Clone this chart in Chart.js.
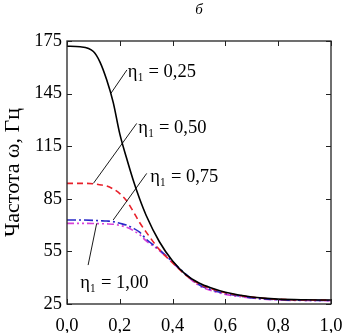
<!DOCTYPE html>
<html>
<head>
<meta charset="utf-8">
<script src="https://cdn.jsdelivr.net/npm/chart.js@4/dist/chart.umd.min.js"></script>
<style>
html,body{margin:0;padding:0;background:#fff;}
#wrap{width:343px;height:333px;}
</style>
</head>
<body>
<div id="wrap"><canvas id="c" width="343" height="333"></canvas></div>
<script>
const xValues = [0, 0.05, 0.1, 0.125, 0.15, 0.175, 0.2, 0.225, 0.25, 0.275, 0.3, 0.35, 0.4, 0.45, 0.5, 0.55, 0.6, 0.7, 0.8, 0.9, 1.0];
const eta025 = [172, 171.7, 169, 163, 153, 140, 122, 108.5, 96, 85, 75.5, 60.5, 49.5, 41.8, 37, 34, 31.7, 29, 27.8, 27.4, 27.3];
const eta050 = [93.8, 93.8, 93.6, 93, 92.3, 90.6, 88, 84, 78, 71.5, 66, 56, 48.5, 41.5, 36.5, 33.5, 31.4, 28.9, 27.7, 27.3, 27.2];
const eta075 = [72.9, 72.9, 72.7, 72.5, 72.3, 72, 71, 70, 68.3, 66, 62, 56, 49, 42, 36, 33, 31, 28.5, 27.4, 27.1, 27];
const eta100 = [71, 71, 70.9, 70.8, 70.7, 70.5, 69.8, 68.8, 67, 64.5, 61, 55.5, 48.5, 41.5, 35.5, 32.5, 30.5, 28.4, 27.3, 27, 26.9];
const yTicks = [25, 55, 85, 115, 145, 175];
const xTicks = [0, 0.2, 0.4, 0.6, 0.8, 1.0];
const seriesLabels = ["η₁ = 0,25", "η₁ = 0,50", "η₁ = 0,75", "η₁ = 1,00"];
// annotation label anchors and leader lines in data coordinates
const labelPos = [[0.230, 157.3], [0.270, 125.4], [0.315, 97.4], [0.050, 37]];
const leaderFrom = [[0.167, 145.3], [0.100, 93.8], [0.175, 72.9], [0.1125, 71]];
const leaderTo = [[0.227, 158.5], [0.264, 128], [0.302, 99.5], [0.080, 47.2]];

const mk = (arr) => xValues.map((x, i) => ({x: x, y: arr[i]}));
const serif = "'Liberation Serif', 'Times New Roman', serif";

const frameAndTicks = {
  id: 'frameAndTicks',
  afterDraw(chart) {
    const ctx = chart.ctx, a = chart.chartArea;
    const xs = chart.scales.x, ys = chart.scales.y;
    ctx.save();
    ctx.strokeStyle = '#222';
    ctx.lineWidth = 1.3;
    ctx.strokeRect(a.left, a.top, a.right - a.left, a.bottom - a.top);
    ctx.lineWidth = 1;
    const L = 5;
    ctx.beginPath();
    xTicks.forEach(v => {
      const p = Math.round(xs.getPixelForValue(v)) + 0.5;
      ctx.moveTo(p, a.bottom); ctx.lineTo(p, a.bottom - L);
      ctx.moveTo(p, a.top); ctx.lineTo(p, a.top + L);
    });
    yTicks.forEach(v => {
      const p = Math.round(ys.getPixelForValue(v)) + 0.5;
      ctx.moveTo(a.left, p); ctx.lineTo(a.left + L, p);
      ctx.moveTo(a.right, p); ctx.lineTo(a.right - L, p);
    });
    ctx.stroke();
    // leaders and labels
    ctx.strokeStyle = '#000';
    ctx.lineWidth = 0.9;
    ctx.fillStyle = '#000';
    ctx.textBaseline = 'middle';
    ctx.textAlign = 'left';
    ctx.font = "18.5px " + serif;
    for (let i = 0; i < seriesLabels.length; i++) {
      ctx.beginPath();
      ctx.moveTo(xs.getPixelForValue(leaderFrom[i][0]), ys.getPixelForValue(leaderFrom[i][1]));
      ctx.lineTo(xs.getPixelForValue(leaderTo[i][0]), ys.getPixelForValue(leaderTo[i][1]));
      ctx.stroke();
      ctx.fillText(seriesLabels[i], xs.getPixelForValue(labelPos[i][0]), ys.getPixelForValue(labelPos[i][1]));
    }
    // panel letter
    ctx.textAlign = 'center';
    ctx.font = "italic 15px " + serif;
    ctx.fillText('б', (a.left + a.right) / 2, 10);
    ctx.restore();
  }
};

new Chart(document.getElementById('c'), {
  type: 'line',
  data: {
    datasets: [
      {label: seriesLabels[0], data: mk(eta025), borderColor: '#000', borderWidth: 1.6, pointRadius: 0, cubicInterpolationMode: 'monotone'},
      {label: seriesLabels[1], data: mk(eta050), borderColor: '#e8202a', borderWidth: 1.6, borderDash: [6, 4], pointRadius: 0, cubicInterpolationMode: 'monotone'},
      {label: seriesLabels[2], data: mk(eta075), borderColor: '#2828c8', borderWidth: 1.6, borderDash: [9, 3, 2, 3], pointRadius: 0, cubicInterpolationMode: 'monotone'},
      {label: seriesLabels[3], data: mk(eta100), borderColor: '#d840d8', borderWidth: 1.6, borderDash: [7, 3, 2, 3, 2, 3], pointRadius: 0, cubicInterpolationMode: 'monotone'}
    ]
  },
  options: {
    responsive: false,
    animation: false,
    layout: {padding: {top: 41, right: 12, left: 0, bottom: 0}},
    plugins: {legend: {display: false}, tooltip: {enabled: false}},
    scales: {
      x: {
        type: 'linear', min: 0, max: 1,
        afterBuildTicks: s => { s.ticks = xTicks.map(v => ({value: v})); },
        afterFit: s => { s.height = 29; s.paddingLeft = 0; s.paddingRight = 0; },
        grid: {display: false, drawTicks: false},
        border: {display: false},
        ticks: {
          color: '#000', padding: 11, maxRotation: 0, autoSkip: false,
          font: {family: serif, size: 18.5},
          callback: v => Number(v).toFixed(1).replace('.', ',')
        }
      },
      y: {
        type: 'linear', min: 25, max: 175,
        afterBuildTicks: s => { s.ticks = yTicks.map(v => ({value: v})); },
        afterFit: s => { s.width = 67; s.paddingTop = 0; s.paddingBottom = 0; },
        grid: {display: false, drawTicks: false},
        border: {display: false},
        title: {display: true, text: 'Частота ω, Гц', color: '#000', font: {family: serif, size: 22}, padding: {top: 0, bottom: 0}},
        ticks: {
          color: '#000', padding: 5, autoSkip: false,
          font: {family: serif, size: 18.5},
          callback: v => String(v)
        }
      }
    }
  },
  plugins: [frameAndTicks]
});
</script>
</body>
</html>
